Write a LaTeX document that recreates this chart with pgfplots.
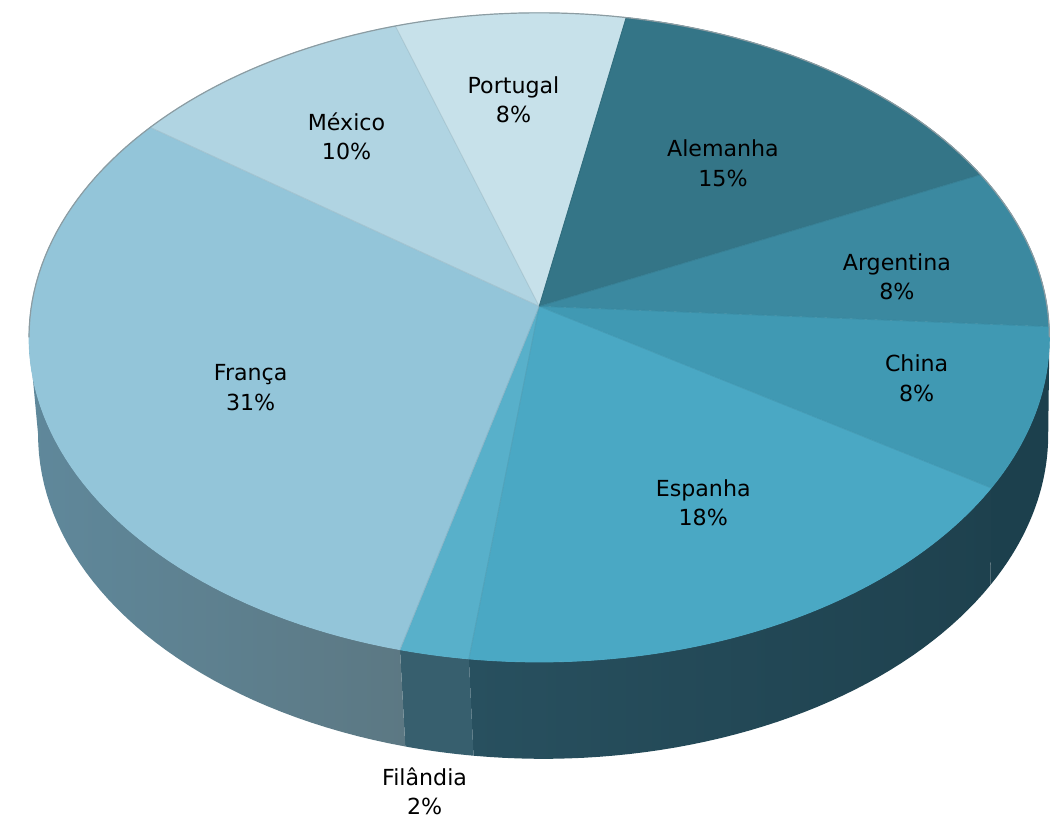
\documentclass[border=0pt]{standalone}
\usepackage{pgfplots}
\pgfplotsset{compat=1.18}
\usepackage{pgfplotstable}
\usepackage{fontspec}
\setmainfont{DejaVu Sans}

% top faces
\definecolor{top0}{HTML}{C7E1EA} % Portugal
\definecolor{top1}{HTML}{347587} % Alemanha
\definecolor{top2}{HTML}{3B89A0} % Argentina
\definecolor{top3}{HTML}{4099B3} % China
\definecolor{top4}{HTML}{4AA8C4} % Espanha
\definecolor{top5}{HTML}{58B0CA} % Filandia
\definecolor{top6}{HTML}{93C5D9} % Franca
\definecolor{top7}{HTML}{B0D4E2} % Mexico
% sides
\definecolor{side3}{HTML}{1C404D}
\definecolor{side4a}{HTML}{28505F}
\definecolor{side4b}{HTML}{1E414E}
\definecolor{side5}{HTML}{375F6E}
\definecolor{side6a}{HTML}{5F889B}
\definecolor{side6m}{HTML}{75909A}
\definecolor{side6b}{HTML}{5C7883}
\definecolor{outl}{HTML}{8C9CA2}

\pgfplotstableread{
name value
Portugal 8
Alemanha 15
Argentina 8
China 8
Espanha 18
Filândia 2
França 31
México 10
}\pietable

% geometry (pixel units of the picture)
\def\pieCX{533}
\def\pieCY{310}
\def\pieA{514}
\def\pieB{325.5}
\def\pieK{0.0959}
\def\pieD{98}
\def\pa#1{\csname pieang#1\endcsname}

\newcommand\topslice[3]{%
  \addplot[draw=#3, fill=#3, line width=0.4pt, variable=\s, domain=0:72, samples=73,
    declare function={T(\q)=#1+(#2-(#1))*max(\q-1,0)/71;}]
  ({\pieCX + min(\s,1)*\pieA*sin(T(\s))/(1+\pieK*cos(T(\s)))},
   {-\pieCY + min(\s,1)*\pieB*cos(T(\s))/(1+\pieK*cos(T(\s)))});
}
\newcommand\sideslice[3]{%
  \addplot[#3, draw=none, variable=\s, domain=0:81, samples=82,
    declare function={T(\q)=ifthenelse(\q<40.5,#1+(#2-(#1))*\q/40,#2-(#2-(#1))*(\q-41)/40);
                      F(\q)=(\q>40.5);}]
  ({\pieCX + 4*F(\s) + (1-0.01*F(\s))*\pieA*sin(T(\s))/(1+\pieK*cos(T(\s)))},
   {-\pieCY - \pieD*F(\s) + \pieB*cos(T(\s))/(1+\pieK*cos(T(\s)))});
}
\newcommand\sepline[1]{%
  \addplot[black, opacity=0.07, line width=0.5pt, variable=\s, domain=0:1, samples=2]
  ({\pieCX + \s*\pieA*sin(#1)/(1+\pieK*cos(#1))},
   {-\pieCY + \s*\pieB*cos(#1)/(1+\pieK*cos(#1))});
}

\begin{document}
% cumulative angles (clockwise from top, degrees)
\pgfmathsetmacro\acc{-18}
\expandafter\xdef\csname pieang0\endcsname{\acc}
\pgfplotsforeachungrouped \i in {0,...,7}{%
  \pgfplotstablegetelem{\i}{value}\of\pietable
  \pgfmathsetmacro\acc{\acc+3.6*\pgfplotsretval}%
  \pgfmathtruncatemacro\j{\i+1}%
  \expandafter\xdef\csname pieang\j\endcsname{\acc}%
}%
\begin{tikzpicture}
\begin{axis}[width=525pt, height=414pt, scale only axis,
  xmin=0, xmax=1050, ymin=-828, ymax=0, hide axis, clip=true]
\coordinate (bl) at (rel axis cs:0,0);
\coordinate (tr) at (rel axis cs:1,1);
% sides (front)
\sideslice{95.5}{\pa{4}}{fill=side3}
\sideslice{\pa{4}}{\pa{5}}{left color=side4a, right color=side4b}
\sideslice{\pa{5}}{\pa{6}}{fill=side5}
\sideslice{\pa{6}}{264.5}{left color=side6a, middle color=side6m, right color=side6b}
% top faces
\pgfplotsforeachungrouped \i in {0,...,7}{%
  \pgfmathtruncatemacro\j{\i+1}%
  \edef\tmp{\noexpand\topslice{\pa\i}{\pa\j}{top\i}}\tmp
}
\pgfplotsforeachungrouped \i in {0,...,7}{%
  \edef\tmp{\noexpand\sepline{\pa\i}}\tmp
}
% back outline
\addplot[outl, line width=0.6pt, variable=\t, domain=-95.5:95.5, samples=120]
  ({\pieCX+\pieA*sin(\t)/(1+\pieK*cos(\t))},{-\pieCY+\pieB*cos(\t)/(1+\pieK*cos(\t))});
% labels
\begin{scope}[every node/.style={align=center, font=\fontsize{11.2}{15}\selectfont, text=black}]
\node at (axis cs:507,-101) {Portugal\\8\%};
\node at (axis cs:719,-165) {Alemanha\\15\%};
\node at (axis cs:895,-280) {Argentina\\8\%};
\node at (axis cs:915,-383) {China\\8\%};
\node at (axis cs:699,-509) {Espanha\\18\%};
\node at (axis cs:417,-801) {Filândia\\2\%};
\node at (axis cs:241,-392) {França\\31\%};
\node at (axis cs:338,-138) {México\\10\%};
\end{scope}
\end{axis}
\pgfresetboundingbox
\path[use as bounding box] (bl) rectangle (tr);
\end{tikzpicture}
\end{document}
